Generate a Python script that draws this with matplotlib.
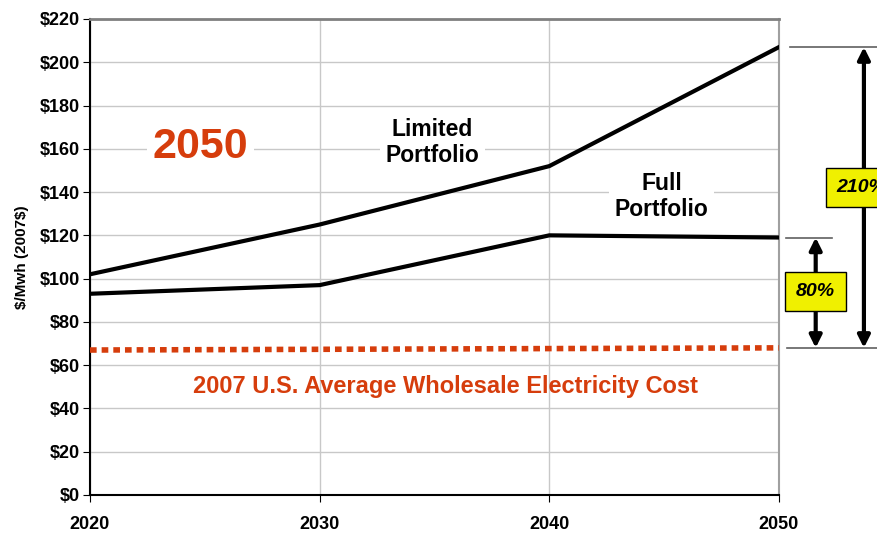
import matplotlib.pyplot as plt

years = [2020, 2030, 2040, 2050]
limited = [102, 125, 152, 207]
full = [93, 97, 120, 119]
avg_years = [2020, 2050]
avg_cost = [67, 68]
yticks = [0, 20, 40, 60, 80, 100, 120, 140, 160, 180, 200, 220]

plt.rcParams['font.family'] = ['Liberation Sans', 'DejaVu Sans']
plt.rcParams['font.weight'] = 'bold'

fig = plt.figure(figsize=(8.77, 5.33), dpi=100)
ax = fig.add_axes([0.1026, 0.0713, 0.7856, 0.8931])

ax.plot(years, limited, color='black', lw=3, solid_joinstyle='miter', zorder=4)
ax.plot(years, full, color='black', lw=3, solid_joinstyle='miter', zorder=4)
ax.plot(avg_years, avg_cost, color='#d63d0c', lw=4, dashes=(1.2, 0.9),
        dash_capstyle='butt', zorder=4)

ax.set_xlim(2020, 2050)
ax.set_ylim(0, 220)
ax.set_xticks(years)
ax.set_yticks(yticks)
ax.set_yticklabels(['\\$%d' % v for v in yticks])
ax.grid(True, color='#c8c8c8', lw=1)
ax.set_axisbelow(True)
ax.tick_params(axis='x', direction='out', length=5, pad=10, labelsize=13)
ax.tick_params(axis='y', direction='out', length=5, pad=2, labelsize=13)
for s in ['left', 'bottom']:
    ax.spines[s].set_color('black')
    ax.spines[s].set_linewidth(1.5)
ax.spines['top'].set_color('#808080')
ax.spines['top'].set_linewidth(2)
ax.spines['right'].set_color('#a0a0a0')
ax.spines['right'].set_linewidth(1.5)
ax.set_ylabel('\\$/Mwh (2007\\$)', fontsize=11, fontweight='bold', labelpad=8)

bb = dict(facecolor='white', edgecolor='none', pad=4)
ax.text(2024.8, 161, '2050', color='#d63d0c', fontsize=31, ha='center', va='center',
        bbox=bb, zorder=3)
ax.text(2034.9, 163, 'Limited\nPortfolio', fontsize=16.5, ha='center', va='center',
        linespacing=1.2, bbox=bb, zorder=3)
ax.text(2044.9, 138, 'Full\nPortfolio', fontsize=16.5, ha='center', va='center',
        linespacing=1.2, bbox=bb, zorder=3)
ax.text(2035.5, 50, '2007 U.S. Average Wholesale Electricity Cost', color='#d63d0c',
        fontsize=17, ha='center', va='center', zorder=3)

# right-hand bracket annotations
gl = dict(color='#606060', lw=1.2, clip_on=False)
ax.plot([2050.5, 2054.5], [limited[-1], limited[-1]], **gl)
ax.plot([2050.3, 2052.3], [full[-1], full[-1]], **gl)
ax.plot([2050.35, 2054.5], [avg_cost[-1], avg_cost[-1]], **gl)

ap = dict(arrowstyle='<|-|>', color='black', lw=3, mutation_scale=18,
          shrinkA=0, shrinkB=0)
ax.annotate('', xy=(2051.6, full[-1]), xytext=(2051.6, avg_cost[-1]),
            arrowprops=ap, annotation_clip=False)
ax.annotate('', xy=(2053.7, limited[-1]), xytext=(2053.7, avg_cost[-1]),
            arrowprops=ap, annotation_clip=False)

yb = dict(facecolor='#f0f000', edgecolor='black', lw=1, pad=8)
ax.text(2051.6, 94, '80%', fontsize=14, style='italic', ha='center', va='center',
        bbox=yb, clip_on=False, zorder=5)
ax.text(2053.6, 142, '210%', fontsize=14, style='italic', ha='center', va='center',
        bbox=yb, clip_on=False, zorder=5)

fig.savefig('out.png', dpi=100)
